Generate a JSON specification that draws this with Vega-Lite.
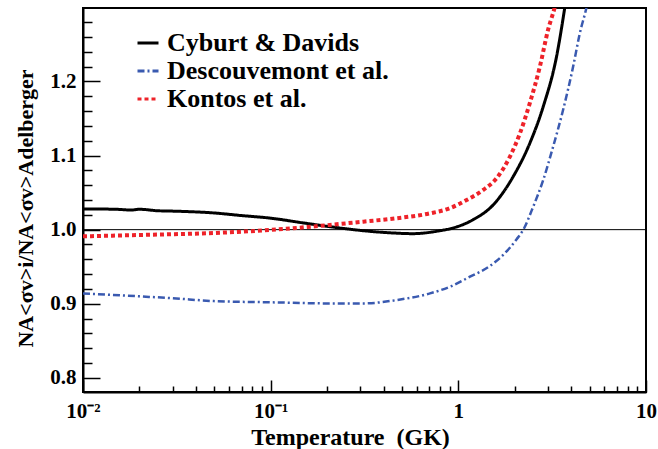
{
  "$schema": "https://vega.github.io/schema/vega-lite/v6.json",
  "width": 563,
  "height": 384,
  "autosize": {"type": "none"},
  "padding": {"left": 83, "top": 8, "right": 12, "bottom": 57},
  "background": "white",
  "config": {
    "view": {"stroke": "black", "strokeWidth": 2},
    "font": "Liberation Serif",
    "axis": {
      "domainColor": "black", "domainWidth": 2,
      "tickColor": "black", "tickWidth": 1.5,
      "labelFont": "Liberation Serif", "labelFontWeight": "bold", "labelFontSize": 21, "labelColor": "black",
      "titleFont": "Liberation Serif", "titleFontWeight": "bold", "titleFontSize": 24, "titleColor": "black",
      "grid": false
    },
    "legend": {
      "labelFont": "Liberation Serif", "labelFontWeight": "bold", "labelFontSize": 26, "labelColor": "black", "labelLimit": 400
    }
  },
  "datasets": {
    "curves": [
      {"series": "Cyburt & Davids", "T": 0.01, "r": 1.028},
      {"series": "Cyburt & Davids", "T": 0.015, "r": 1.0275},
      {"series": "Cyburt & Davids", "T": 0.018, "r": 1.0265},
      {"series": "Cyburt & Davids", "T": 0.02, "r": 1.0275},
      {"series": "Cyburt & Davids", "T": 0.025, "r": 1.0255},
      {"series": "Cyburt & Davids", "T": 0.03, "r": 1.025},
      {"series": "Cyburt & Davids", "T": 0.05, "r": 1.0225},
      {"series": "Cyburt & Davids", "T": 0.07, "r": 1.019},
      {"series": "Cyburt & Davids", "T": 0.1, "r": 1.0155},
      {"series": "Cyburt & Davids", "T": 0.15, "r": 1.009},
      {"series": "Cyburt & Davids", "T": 0.207, "r": 1.004},
      {"series": "Cyburt & Davids", "T": 0.3115, "r": 0.9986},
      {"series": "Cyburt & Davids", "T": 0.45, "r": 0.9955},
      {"series": "Cyburt & Davids", "T": 0.575, "r": 0.9946},
      {"series": "Cyburt & Davids", "T": 0.798, "r": 0.9986},
      {"series": "Cyburt & Davids", "T": 0.939, "r": 1.0023},
      {"series": "Cyburt & Davids", "T": 1.2, "r": 1.0135},
      {"series": "Cyburt & Davids", "T": 1.535, "r": 1.0335},
      {"series": "Cyburt & Davids", "T": 1.96, "r": 1.0716},
      {"series": "Cyburt & Davids", "T": 2.406, "r": 1.1168},
      {"series": "Cyburt & Davids", "T": 2.834, "r": 1.166},
      {"series": "Cyburt & Davids", "T": 3.34, "r": 1.234},
      {"series": "Cyburt & Davids", "T": 3.7, "r": 1.301},
      {"series": "Cyburt & Davids", "T": 3.8, "r": 1.32},
      {"series": "Descouvemont et al.", "T": 0.01, "r": 0.914},
      {"series": "Descouvemont et al.", "T": 0.02, "r": 0.910},
      {"series": "Descouvemont et al.", "T": 0.03, "r": 0.9075},
      {"series": "Descouvemont et al.", "T": 0.05, "r": 0.9036},
      {"series": "Descouvemont et al.", "T": 0.1, "r": 0.902},
      {"series": "Descouvemont et al.", "T": 0.207, "r": 0.9005},
      {"series": "Descouvemont et al.", "T": 0.3115, "r": 0.9005},
      {"series": "Descouvemont et al.", "T": 0.469, "r": 0.905},
      {"series": "Descouvemont et al.", "T": 0.706, "r": 0.914},
      {"series": "Descouvemont et al.", "T": 0.902, "r": 0.923},
      {"series": "Descouvemont et al.", "T": 1.153, "r": 0.9365},
      {"series": "Descouvemont et al.", "T": 1.474, "r": 0.951},
      {"series": "Descouvemont et al.", "T": 1.735, "r": 0.966},
      {"series": "Descouvemont et al.", "T": 2.045, "r": 0.987},
      {"series": "Descouvemont et al.", "T": 2.22, "r": 1.0},
      {"series": "Descouvemont et al.", "T": 2.506, "r": 1.031},
      {"series": "Descouvemont et al.", "T": 2.834, "r": 1.067},
      {"series": "Descouvemont et al.", "T": 3.2, "r": 1.112},
      {"series": "Descouvemont et al.", "T": 3.62, "r": 1.162},
      {"series": "Descouvemont et al.", "T": 4.09, "r": 1.22},
      {"series": "Descouvemont et al.", "T": 4.44, "r": 1.265},
      {"series": "Descouvemont et al.", "T": 4.83, "r": 1.301},
      {"series": "Descouvemont et al.", "T": 5.0, "r": 1.32},
      {"series": "Kontos et al.", "T": 0.01, "r": 0.991},
      {"series": "Kontos et al.", "T": 0.02, "r": 0.9928},
      {"series": "Kontos et al.", "T": 0.05, "r": 0.9955},
      {"series": "Kontos et al.", "T": 0.1, "r": 0.9996},
      {"series": "Kontos et al.", "T": 0.207, "r": 1.0064},
      {"series": "Kontos et al.", "T": 0.3115, "r": 1.0108},
      {"series": "Kontos et al.", "T": 0.469, "r": 1.0154},
      {"series": "Kontos et al.", "T": 0.706, "r": 1.022},
      {"series": "Kontos et al.", "T": 0.902, "r": 1.029},
      {"series": "Kontos et al.", "T": 1.107, "r": 1.04},
      {"series": "Kontos et al.", "T": 1.358, "r": 1.0536},
      {"series": "Kontos et al.", "T": 1.6, "r": 1.0695},
      {"series": "Kontos et al.", "T": 1.884, "r": 1.0986},
      {"series": "Kontos et al.", "T": 2.13, "r": 1.13},
      {"series": "Kontos et al.", "T": 2.406, "r": 1.171},
      {"series": "Kontos et al.", "T": 2.72, "r": 1.22},
      {"series": "Kontos et al.", "T": 3.01, "r": 1.27},
      {"series": "Kontos et al.", "T": 3.27, "r": 1.301},
      {"series": "Kontos et al.", "T": 3.4, "r": 1.32}
    ]
  },
  "layer": [
    {
      "data": {"values": [{}]},
      "mark": {"type": "rule", "color": "black", "strokeWidth": 1},
      "encoding": {
        "y": {
          "datum": 1, "type": "quantitative",
          "scale": {"domain": [0.781, 1.299], "nice": false, "zero": false},
          "title": "NA<σv>i/NA<σv>Adelberger",
          "axis": {
            "values": [0.8,0.82,0.84,0.86,0.88,0.9,0.92,0.94,0.96,0.98,1.0,1.02,1.04,1.06,1.08,1.1,1.12,1.14,1.16,1.18,1.2,1.22,1.24,1.26,1.28],
            "labelExpr": "abs(datum.value*10 - round(datum.value*10)) < 0.001 ? format(datum.value, '.1f') : ''",
            "tickSize": {"condition": {"test": "abs(datum.value*10 - round(datum.value*10)) < 0.001", "value": -17}, "value": -9},
            "labelPadding": 24,
            "labelOverlap": false,
            "titleFontSize": 22,
            "titleX": -58,
            "titleY": 200,
            "titleBaseline": "middle"
          }
        }
      }
    },
    {
      "data": {"name": "curves"},
      "encoding": {
        "x": {
          "field": "T", "type": "quantitative",
          "scale": {"type": "log", "domain": [0.01, 10], "nice": false},
          "title": "Temperature\u00a0\u00a0(GK)",
          "axis": {
            "titleX": 267,
            "titleY": 52,
            "titleBaseline": "alphabetic",
            "values": [0.01,0.02,0.03,0.04,0.05,0.06,0.07,0.08,0.09,0.1,0.2,0.3,0.4,0.5,0.6,0.7,0.8,0.9,1,2,3,4,5,6,7,8,9,10],
            "labelExpr": "datum.value == 0.01 ? '10⁻²' : datum.value == 0.1 ? '10⁻¹' : datum.value == 1 ? '1' : datum.value == 10 ? '10' : ''",
            "tickSize": {"condition": {"test": "datum.value == 0.01 || datum.value == 0.1 || datum.value == 1 || datum.value == 10", "value": -12}, "value": -6},
            "labelPadding": 20,
            "labelFlush": false,
            "labelOverlap": false
          }
        },
        "y": {
          "field": "r", "type": "quantitative",
          "title": "NA<σv>i/NA<σv>Adelberger",
          "axis": {
            "values": [0.8,0.82,0.84,0.86,0.88,0.9,0.92,0.94,0.96,0.98,1.0,1.02,1.04,1.06,1.08,1.1,1.12,1.14,1.16,1.18,1.2,1.22,1.24,1.26,1.28],
            "labelExpr": "abs(datum.value*10 - round(datum.value*10)) < 0.001 ? format(datum.value, '.1f') : ''",
            "tickSize": {"condition": {"test": "abs(datum.value*10 - round(datum.value*10)) < 0.001", "value": -17}, "value": -9},
            "labelPadding": 24,
            "labelOverlap": false,
            "titleFontSize": 22,
            "titleX": -58,
            "titleY": 200,
            "titleBaseline": "middle"
          }
        },
        "color": {
          "field": "series", "type": "nominal",
          "scale": {"domain": ["Cyburt & Davids", "Descouvemont et al.", "Kontos et al."], "range": ["#000000", "#3a5ab0", "#ee2229"]},
          "legend": {
            "title": null, "orient": "none", "legendX": 52, "legendY": 22,
            "symbolType": "stroke", "symbolSize": 441, "symbolStrokeWidth": 3,
            "labelOffset": 6, "rowPadding": 2, "padding": 0
          }
        },
        "strokeDash": {
          "field": "series", "type": "nominal",
          "scale": {"domain": ["Cyburt & Davids", "Descouvemont et al.", "Kontos et al."], "range": [[1, 0], [7, 3, 2, 3], [4, 3]]},
          "legend": {
            "title": null, "orient": "none", "legendX": 52, "legendY": 22,
            "symbolType": "stroke", "symbolSize": 441, "symbolStrokeWidth": 3,
            "labelOffset": 6, "rowPadding": 2, "padding": 0
          }
        }
      },
      "layer": [
        {
          "transform": [{"filter": "datum.series == 'Cyburt & Davids'"}],
          "mark": {"type": "line", "clip": true, "interpolate": "monotone", "strokeCap": "butt", "strokeWidth": 3}
        },
        {
          "transform": [{"filter": "datum.series == 'Descouvemont et al.'"}],
          "mark": {"type": "line", "clip": true, "interpolate": "monotone", "strokeCap": "butt", "strokeWidth": 2.5}
        },
        {
          "transform": [{"filter": "datum.series == 'Kontos et al.'"}],
          "mark": {"type": "line", "clip": true, "interpolate": "monotone", "strokeCap": "butt", "strokeWidth": 4}
        }
      ]
    }
  ]
}
